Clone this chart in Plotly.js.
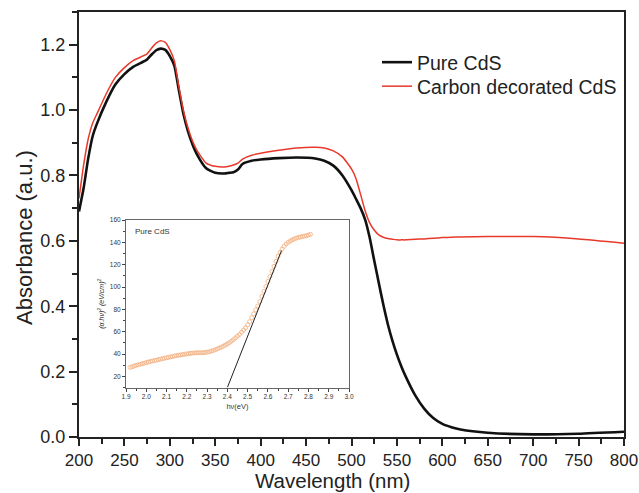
<!DOCTYPE html>
<html>
<head>
<meta charset="utf-8">
<script src="https://cdn.plot.ly/plotly-3.0.1.min.js"></script>
<style>
html,body{margin:0;padding:0;background:#fff;}
#chart{width:639px;height:493px;}
</style>
</head>
<body>
<div id="chart"></div>
<script>
// Main spectra: wavelength (nm) and absorbance (a.u.)
const wavelength = [200,205,210,215,220,230,240,250,260,270,275,280,285,290,295,300,305,310,315,320,325,330,340,350,360,365,370,375,380,390,400,420,440,460,470,480,490,500,505,510,515,520,525,530,535,540,545,550,555,560,570,580,590,600,610,620,650,700,750,800];
const pureCdS = [0.69,0.76,0.85,0.92,0.96,1.025,1.078,1.11,1.133,1.147,1.155,1.17,1.183,1.188,1.184,1.165,1.135,1.06,0.988,0.935,0.895,0.864,0.822,0.808,0.806,0.808,0.81,0.818,0.835,0.845,0.849,0.853,0.855,0.852,0.845,0.83,0.80,0.755,0.728,0.70,0.665,0.61,0.54,0.472,0.405,0.345,0.295,0.252,0.215,0.183,0.128,0.087,0.058,0.04,0.03,0.023,0.013,0.008,0.01,0.016];
const carbonCdS = [0.73,0.83,0.91,0.96,0.99,1.05,1.10,1.13,1.152,1.165,1.172,1.19,1.205,1.212,1.207,1.185,1.15,1.07,0.998,0.945,0.905,0.876,0.838,0.828,0.826,0.828,0.832,0.838,0.85,0.862,0.868,0.877,0.884,0.886,0.884,0.875,0.857,0.82,0.79,0.742,0.692,0.655,0.633,0.618,0.611,0.607,0.605,0.603,0.603,0.603,0.605,0.606,0.608,0.61,0.611,0.612,0.613,0.613,0.606,0.593];
const seriesNames = ["Pure CdS", "Carbon decorated CdS"];

// Inset: Tauc plot
const hv = [1.92,1.93,1.94,1.95,1.96,1.97,1.98,1.99,2.00,2.01,2.02,2.03,2.04,2.05,2.06,2.07,2.08,2.09,2.10,2.11,2.12,2.13,2.14,2.15,2.16,2.17,2.18,2.19,2.20,2.21,2.22,2.23,2.24,2.25,2.26,2.27,2.28,2.29,2.30,2.31,2.32,2.33,2.34,2.35,2.36,2.37,2.38,2.39,2.40,2.41,2.42,2.43,2.44,2.45,2.46,2.47,2.48,2.49,2.50,2.51,2.52,2.53,2.54,2.55,2.56,2.57,2.58,2.59,2.60,2.61,2.62,2.63,2.64,2.65,2.66,2.67,2.68,2.69,2.70,2.71,2.72,2.73,2.74,2.75,2.76,2.77,2.78,2.79,2.80,2.81];
const tauc = [28.0,28.6,29.2,29.8,30.3,30.8,31.3,31.8,32.3,32.8,33.3,33.7,34.1,34.5,35.0,35.4,35.8,36.2,36.6,37.0,37.4,37.8,38.2,38.6,38.9,39.2,39.5,39.8,40.1,40.4,40.6,40.8,41.0,41.1,41.1,41.1,41.2,41.4,41.6,42.0,42.5,43.1,43.8,44.5,45.3,46.1,47.0,48.0,49.0,50.2,51.5,52.9,54.4,56.0,57.5,59.5,61.5,63.5,66.0,69.0,72.5,76.0,79.5,83.0,87.0,91.5,96.0,100.5,105.0,109.5,114.0,118.5,123.0,127.5,131.0,134.0,136.5,138.5,140.0,141.2,142.2,143.0,143.7,144.3,144.8,145.2,145.6,146.0,146.5,147.2];
const tangentX = [2.40, 2.667];
const tangentY = [10, 132.6];
const insetLabel = "Pure CdS";

const FONT = "Liberation Sans, Arial, sans-serif";

const traces = [
  {x: wavelength, y: pureCdS, name: seriesNames[0], type: "scatter", mode: "lines", legend: "legend",
   line: {color: "#111111", width: 2.6, shape: "spline", smoothing: 0.5}, xaxis: "x", yaxis: "y"},
  {x: wavelength, y: carbonCdS, name: seriesNames[1], type: "scatter", mode: "lines", legend: "legend2",
   line: {color: "#e8392b", width: 1.5, shape: "spline", smoothing: 0.5}, xaxis: "x", yaxis: "y"},
  {x: hv, y: tauc, type: "scatter", mode: "markers", showlegend: false,
   marker: {symbol: "circle-open", size: 4, color: "#f2ad7c", line: {width: 0.8}}, xaxis: "x2", yaxis: "y2"},
  {x: tangentX, y: tangentY, type: "scatter", mode: "lines", showlegend: false,
   line: {color: "#222", width: 1}, xaxis: "x2", yaxis: "y2"}
];

const W = 639, H = 493;
const L = 79, R = 15, T = 12, B = 56;
const pw = W - L - R, ph = H - T - B;
function px2x(p){ return (p - L) / pw; }
function px2y(p){ return (H - B - p) / ph; }

const legendFont = {family: FONT, size: 19.5, color: "#222"};

const layout = {
  width: W, height: H,
  margin: {l: L, r: R, t: T, b: B, pad: 0},
  paper_bgcolor: "#ffffff", plot_bgcolor: "#ffffff",
  font: {family: FONT, color: "#222"},
  showlegend: true,
  legend: {x: px2x(377), y: px2y(43), xanchor: "left", yanchor: "top",
    font: legendFont, bgcolor: "rgba(0,0,0,0)"},
  legend2: {x: px2x(377), y: px2y(67), xanchor: "left", yanchor: "top",
    font: legendFont, bgcolor: "rgba(0,0,0,0)"},
  xaxis: {range: [200, 800], dtick: 50, tick0: 200, ticks: "outside", ticklen: 7, tickwidth: 2,
    tickcolor: "#222", showline: true, linewidth: 2, linecolor: "#222", mirror: true,
    showgrid: false, zeroline: false, tickfont: {family: FONT, size: 17, color: "#222"},
    ticklabeloverflow: "allow",
    minor: {dtick: 25, ticks: "outside", ticklen: 5, tickwidth: 2, tickcolor: "#222", showgrid: false},
    domain: [0, 1], anchor: "y"},
  yaxis: {range: [0, 1.3], dtick: 0.2, tick0: 0, tickformat: ".1f", ticks: "outside", ticklen: 8, tickwidth: 2,
    tickcolor: "#222", showline: true, linewidth: 2, linecolor: "#222", mirror: true,
    showgrid: false, zeroline: false, tickfont: {family: FONT, size: 18, color: "#222"},
    minor: {dtick: 0.1, ticks: "outside", ticklen: 5, tickwidth: 2, tickcolor: "#222", showgrid: false},
    domain: [0, 1], anchor: "x"},
  xaxis2: {range: [1.9, 3.0], dtick: 0.1, tick0: 1.9, tickformat: ".1f", ticks: "outside", ticklen: 3, tickwidth: 1,
    tickcolor: "#444", showline: true, linewidth: 1, linecolor: "#666", mirror: true,
    showgrid: false, zeroline: false, tickfont: {family: FONT, size: 6.5, color: "#333"},
    minor: {dtick: 0.05, ticks: "outside", ticklen: 2, tickwidth: 1, tickcolor: "#444", showgrid: false},
    title: {text: "h\u03bd(eV)", font: {family: FONT, size: 7.5, color: "#333"}, standoff: 4},
    domain: [px2x(126), px2x(349)], anchor: "y2"},
  yaxis2: {range: [10, 160], dtick: 20, tick0: 0, ticks: "outside", ticklen: 3, tickwidth: 1,
    tickcolor: "#444", showline: true, linewidth: 1, linecolor: "#666", mirror: true,
    showgrid: false, zeroline: false, tickfont: {family: FONT, size: 6.5, color: "#333"},
    minor: {dtick: 10, ticks: "outside", ticklen: 2, tickwidth: 1, tickcolor: "#444", showgrid: false},
    title: {text: "<i>(\u03b1.h\u03bd)<sup>2</sup> (eV/cm)<sup>2</sup></i>", font: {family: FONT, size: 7, color: "#333"}, standoff: 4},
    domain: [px2y(387.5), px2y(220)], anchor: "x2"},
  annotations: [
    {text: "Absorbance (a.u.)", xref: "paper", yref: "paper", x: px2x(24), y: px2y(238),
     xanchor: "center", yanchor: "middle", textangle: -90, showarrow: false,
     font: {family: FONT, size: 22, color: "#222"}},
    {text: "Wavelength (nm)", xref: "paper", yref: "paper", x: px2x(332.5), y: px2y(480.5),
     xanchor: "center", yanchor: "middle", showarrow: false,
     font: {family: FONT, size: 20.5, color: "#222"}},
    {text: insetLabel, xref: "paper", yref: "paper", x: px2x(133), y: px2y(231),
     xanchor: "left", yanchor: "middle", showarrow: false,
     font: {family: FONT, size: 8, color: "#333"}}
  ]
};

Plotly.newPlot("chart", traces, layout, {displayModeBar: false, staticPlot: true});
</script>
</body>
</html>
